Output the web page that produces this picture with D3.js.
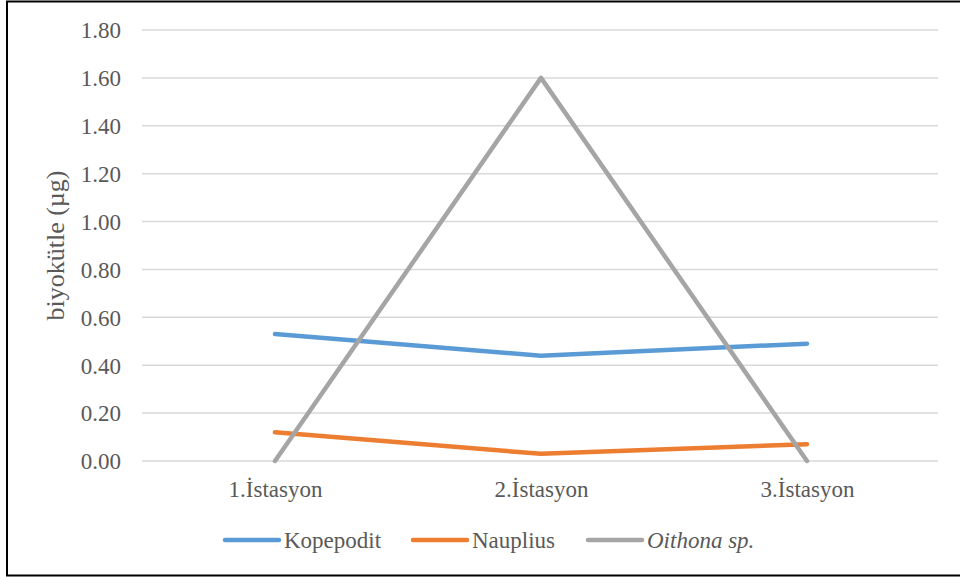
<!DOCTYPE html>
<html>
<head>
<meta charset="utf-8">
<script src="https://cdn.jsdelivr.net/npm/d3@7"></script>
<style>
  html, body { margin: 0; padding: 0; background: #fff; }
  svg { display: block; }
</style>
</head>
<body>
<svg id="chart" width="960" height="577"></svg>
<script>
// Stations along the x axis
const categories = ["1.İstasyon", "2.İstasyon", "3.İstasyon"];

// Biomass per station (µg)
const kopepodit = [0.53, 0.44, 0.49];
const nauplius  = [0.12, 0.03, 0.07];
const oithona   = [0.00, 1.60, 0.00];

const seriesNames = ["Kopepodit", "Nauplius", "Oithona sp."];
const seriesColors = ["#5B9BD5", "#ED7D31", "#A5A5A5"];
const yTicks = [0, 0.2, 0.4, 0.6, 0.8, 1.0, 1.2, 1.4, 1.6, 1.8];

const series = [
  { name: seriesNames[0], values: kopepodit, color: seriesColors[0], italic: false },
  { name: seriesNames[1], values: nauplius,  color: seriesColors[1], italic: false },
  { name: seriesNames[2], values: oithona,   color: seriesColors[2], italic: true }
];

const svg = d3.select("#chart");
const fontFamily = "Liberation Serif";
const textColor = "#595959";

const plot = { left: 142, right: 940, top: 30, bottom: 461 };

const x = d3.scalePoint()
  .domain(categories)
  .range([plot.left, plot.right])
  .padding(0.5);

const y = d3.scaleLinear()
  .domain([0, 1.8])
  .range([plot.bottom, plot.top]);

// Outer frame
svg.append("rect")
  .attr("x", 7).attr("y", 1.5)
  .attr("width", 960).attr("height", 574)
  .attr("fill", "none")
  .attr("stroke", "#000")
  .attr("stroke-width", 2);

// Horizontal gridlines
svg.append("g")
  .selectAll("line")
  .data(yTicks)
  .join("line")
  .attr("x1", plot.left).attr("x2", plot.right - 2)
  .attr("y1", d => y(d)).attr("y2", d => y(d))
  .attr("stroke", "#D9D9D9")
  .attr("stroke-width", 1.5);

// Y axis labels
const yAxis = d3.axisLeft(y)
  .tickValues(yTicks)
  .tickFormat(d3.format(".2f"))
  .tickSize(0)
  .tickPadding(0);
const yg = svg.append("g")
  .attr("transform", `translate(${plot.left - 21},0)`)
  .call(yAxis)
  .attr("font-family", fontFamily)
  .attr("font-size", 23);
yg.select(".domain").remove();
yg.selectAll("text")
  .attr("fill", textColor)
  .attr("dy", "0.34em");

// X axis labels
const xAxis = d3.axisBottom(x).tickSize(0).tickPadding(0);
const xg = svg.append("g")
  .attr("transform", `translate(0,${plot.bottom})`)
  .call(xAxis)
  .attr("font-family", fontFamily)
  .attr("font-size", 23);
xg.select(".domain").remove();
xg.selectAll("text")
  .attr("fill", textColor)
  .attr("y", 36)
  .attr("dy", 0);

// Y axis title
svg.append("text")
  .attr("transform", `translate(64,${(plot.top + plot.bottom) / 2}) rotate(-90)`)
  .attr("text-anchor", "middle")
  .attr("font-family", fontFamily)
  .attr("font-size", 26)
  .attr("fill", textColor)
  .text("biyokütle (µg)");

// Series lines
const line = d3.line()
  .x((d, i) => x(categories[i]))
  .y(d => y(d));

svg.append("g")
  .selectAll("path")
  .data(series)
  .join("path")
  .attr("d", d => line(d.values))
  .attr("fill", "none")
  .attr("stroke", d => d.color)
  .attr("stroke-width", 4.5)
  .attr("stroke-linecap", "round")
  .attr("stroke-linejoin", "round");

// Legend
const legendX = [225, 413, 588];
const legendY = 540;
const lg = svg.append("g")
  .selectAll("g")
  .data(series)
  .join("g")
  .attr("transform", (d, i) => `translate(${legendX[i]},${legendY})`);
lg.append("line")
  .attr("x1", 0).attr("x2", 54)
  .attr("y1", 0).attr("y2", 0)
  .attr("stroke", d => d.color)
  .attr("stroke-width", 4.5)
  .attr("stroke-linecap", "round");
lg.append("text")
  .attr("x", 59)
  .attr("y", 8)
  .attr("font-family", fontFamily)
  .attr("font-size", 23)
  .attr("font-style", d => d.italic ? "italic" : "normal")
  .attr("fill", textColor)
  .text(d => d.name);
</script>
</body>
</html>
